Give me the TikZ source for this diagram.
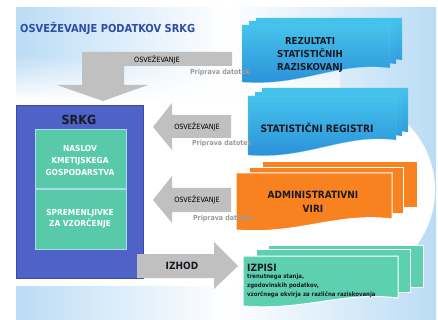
\documentclass[tikz,border=0pt]{standalone}
\usepackage{fontspec}
\setmainfont{DejaVu Sans Condensed}
\usetikzlibrary{fadings}
\definecolor{bgblue}{HTML}{BBDCF5}
\definecolor{titleblue}{HTML}{2E4DA7}
\definecolor{srkgfill}{HTML}{4E62C8}
\definecolor{srkgedge}{HTML}{3A4AA8}
\definecolor{tealin}{HTML}{58C9A9}
\definecolor{tealedge}{HTML}{A9DCEB}
\definecolor{arrowgray}{HTML}{C0C0C0}
\definecolor{prepgray}{HTML}{9A9A9A}
\definecolor{orng}{HTML}{F8821F}
\definecolor{izpis}{HTML}{5DD0B0}
\definecolor{cyantop}{HTML}{45C3EC}
\definecolor{cyanbot}{HTML}{2A8ED8}
\definecolor{txtdark}{HTML}{1A1A24}
\newcommand{\wavedoc}[6]{%
  \path[#1] (#2,#3) -- (#4,#3) -- (#4,#6)
    .. controls ({#4-(#4-#2)*0.35},{#6-7}) and ({#2+(#4-#2)*0.4},{#5+5}) .. (#2,#5) -- cycle;}
\tikzset{
  bluedoc/.style={top color=cyantop, bottom color=cyanbot},
  bluefront/.style={top color=cyantop, bottom color=cyanbot, draw=cyantop!80!white, line width=0.2pt},
  orangedoc/.style={fill=orng, draw=white, line width=1pt},
  tealdoc/.style={fill=izpis, draw=white, line width=1pt},
  garrow/.style={fill=arrowgray},
  osvlabel/.style={font=\fontsize{7.2}{8}\selectfont, text=black, inner sep=0pt},
  preplabel/.style={font=\fontsize{7}{8}\selectfont\bfseries, text=prepgray, inner sep=0pt},
  boxlabel/.style={font=\fontsize{9.6}{13}\selectfont\bfseries, text=txtdark, align=center, inner sep=0pt},
  inlabel/.style={font=\fontsize{8.3}{12}\selectfont\bfseries, text=white, align=center, inner sep=0pt},
}
\begin{document}
\begin{tikzpicture}[x=1pt,y=-1pt]
\path[use as bounding box] (0,0) rectangle (438,320);
% background
\shade[left color=bgblue, right color=bgblue, middle color=white] (16,8) rectangle (436,320);
\fill[white, path fading=north] (16,55) rectangle (340,100);
\fill[white] (16,100) rectangle (335,286);
\fill[white] (335,190) ellipse [x radius=100, y radius=96];
% title
\node[anchor=west, font=\fontsize{11}{13}\selectfont\bfseries, text=titleblue, inner sep=0pt] (title) at (20,29) {OSVEŽEVANJE PODATKOV SRKG};
% SRKG box
\draw[fill=srkgfill, draw=srkgedge, line width=0.8pt] (16,105) rectangle (143,278);
\draw[fill=tealin, draw=tealedge, line width=1pt] (35,130) rectangle (126,189);
\draw[fill=tealin, draw=tealedge, line width=1pt] (35,189) rectangle (126,249);
\node[font=\fontsize{12.5}{14}\selectfont\bfseries, text=txtdark, inner sep=0pt] (srkg) at (79,120) {SRKG};
\node[inlabel] (naslov) at (80,160) {NASLOV\\KMETIJSKEGA\\GOSPODARSTVA};
\node[inlabel, font=\fontsize{8.3}{11}\selectfont\bfseries] (sprem) at (80,219) {SPREMENLJIVKE\\ZA VZORČENJE};
% arrows
\fill[garrow] (232,52) -- (82,52) -- (82,85) -- (57,85) -- (103,101) -- (148,85) -- (124,85) -- (124,66) -- (232,66) -- cycle;
\fill[garrow] (231,115) -- (172,115) -- (172,103) -- (153,127) -- (172,150) -- (172,138) -- (231,138) -- cycle;
\fill[garrow] (231,188) -- (172,188) -- (172,176) -- (153,200) -- (172,223) -- (172,212) -- (231,212) -- cycle;
\fill[garrow] (137,254) -- (214,254) -- (214,242) -- (238,266) -- (214,289) -- (214,278) -- (137,278) -- cycle;
% blue documents
\wavedoc{bluedoc}{256}{18}{402}{74}{60}
\wavedoc{bluedoc}{249}{21}{396}{78}{64}
\wavedoc{bluefront}{242}{25}{390}{82}{68}
\wavedoc{bluedoc}{262}{88}{408}{145}{132}
\wavedoc{bluedoc}{255}{92}{402}{150}{136}
\wavedoc{bluefront}{248}{96}{396}{155}{140}
% orange documents
\path[orangedoc] (262,162) rectangle (417,207);
\path[orangedoc] (249,168) rectangle (403,213);
\wavedoc{orangedoc}{236}{173}{392}{230}{219}
% teal documents
\path[tealdoc] (268,245) rectangle (423,287);
\path[tealdoc] (256,249) rectangle (410,292);
\wavedoc{tealdoc}{243}{256}{398}{306}{298}
% arrow labels
\node[osvlabel] (o1) at (157,60) {OSVEŽEVANJE};
\node[preplabel] (p1) at (220,73) {Priprava datotek};
\node[osvlabel] (o2) at (197,127) {OSVEŽEVANJE};
\node[preplabel] (p2) at (222,144) {Priprava datotek};
\node[osvlabel] (o3) at (197,200) {OSVEŽEVANJE};
\node[preplabel] (p3) at (223,219) {Priprava datotek};
\node[font=\fontsize{10}{12}\selectfont\bfseries, text=txtdark, inner sep=0pt] (izhod) at (182,266) {IZHOD};
% box labels
\node[boxlabel] (rez) at (310,55) {REZULTATI\\STATISTIČNIH\\RAZISKOVANJ};
\node[boxlabel, font=\fontsize{10.2}{13}\selectfont\bfseries] (reg) at (317,128) {STATISTIČNI REGISTRI};
\node[boxlabel, font=\fontsize{10}{14}\selectfont\bfseries] (adm) at (313,202) {ADMINISTRATIVNI\\VIRI};
\node[anchor=west, font=\fontsize{10}{12}\selectfont\bfseries, text=txtdark, inner sep=0pt] (izpisi) at (247,268) {IZPISI};
\node[anchor=north west, align=left, font=\fontsize{6}{9}\selectfont\bfseries, text=txtdark, inner sep=0pt] (izpdesc) at (247,274) {trenutnega stanja,\\zgodovinskih podatkov,\\vzorčnega okvirja za različna raziskovanja};
\end{tikzpicture}
\end{document}
